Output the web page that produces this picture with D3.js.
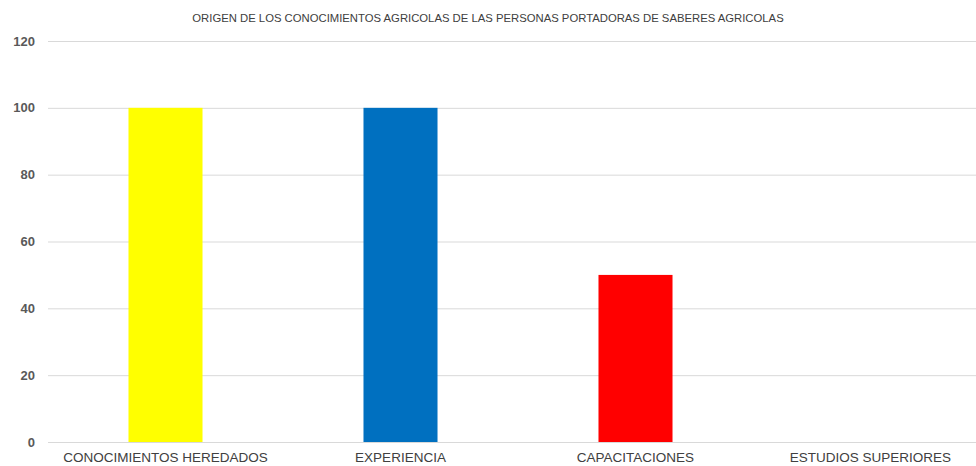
<!DOCTYPE html>
<html>
<head>
<meta charset="utf-8">
<script src="https://cdn.jsdelivr.net/npm/d3@7"></script>
<style>
  body { margin: 0; background: #fff; }
  text { font-family: "Liberation Sans", sans-serif; }
</style>
</head>
<body>
<svg id="chart" width="976" height="466"></svg>
<script>
// data
const categories = ["CONOCIMIENTOS HEREDADOS", "EXPERIENCIA", "CAPACITACIONES", "ESTUDIOS SUPERIORES"];
const values = [100, 100, 50, 0];
const barColors = ["#ffff00", "#0070c0", "#ff0000", "#a5a5a5"];
const yTicks = [0, 20, 40, 60, 80, 100, 120];
const title = "ORIGEN DE LOS CONOCIMIENTOS AGRICOLAS DE LAS PERSONAS PORTADORAS DE SABERES AGRICOLAS";

const margin = {top: 41, right: -12, bottom: 24, left: 48};
const svg = d3.select("#chart");
const width = +svg.attr("width") - margin.left - margin.right;
const height = +svg.attr("height") - margin.top - margin.bottom;

const x = d3.scaleBand().domain(categories).range([0, width]).padding(0);
const y = d3.scaleLinear().domain([0, 120]).range([height, 0]);
const barW = x.bandwidth() * 0.315;

const g = svg.append("g").attr("transform", `translate(${margin.left},${margin.top})`);

// gridlines
g.selectAll(".grid")
  .data(yTicks)
  .enter().append("line")
  .attr("x1", 0)
  .attr("x2", width)
  .attr("y1", d => y(d) + 0.5)
  .attr("y2", d => y(d) + 0.5)
  .attr("stroke", "#d9d9d9")
  .attr("stroke-width", 1);

// y labels
g.selectAll(".ylab")
  .data(yTicks)
  .enter().append("text")
  .attr("x", -13)
  .attr("y", d => y(d))
  .attr("dy", "0.35em")
  .attr("text-anchor", "end")
  .attr("font-size", "13px")
  .attr("font-weight", "bold")
  .attr("fill", "#595959")
  .text(d => d);

// bars
g.selectAll(".bar")
  .data(values)
  .enter().append("rect")
  .attr("x", (d, i) => x(categories[i]) + (x.bandwidth() - barW) / 2)
  .attr("y", d => y(d))
  .attr("width", barW)
  .attr("height", d => y(0) - y(d))
  .attr("fill", (d, i) => barColors[i]);

// x labels
g.selectAll(".xlab")
  .data(categories)
  .enter().append("text")
  .attr("x", d => x(d) + x.bandwidth() / 2)
  .attr("y", height + 20)
  .attr("text-anchor", "middle")
  .attr("font-size", "13.5px")
  .attr("fill", "#404040")
  .text(d => d);

// title
svg.append("text")
  .attr("x", 488)
  .attr("y", 22)
  .attr("text-anchor", "middle")
  .attr("font-size", "11.3px")
  .attr("fill", "#404040")
  .text(title);
</script>
</body>
</html>
